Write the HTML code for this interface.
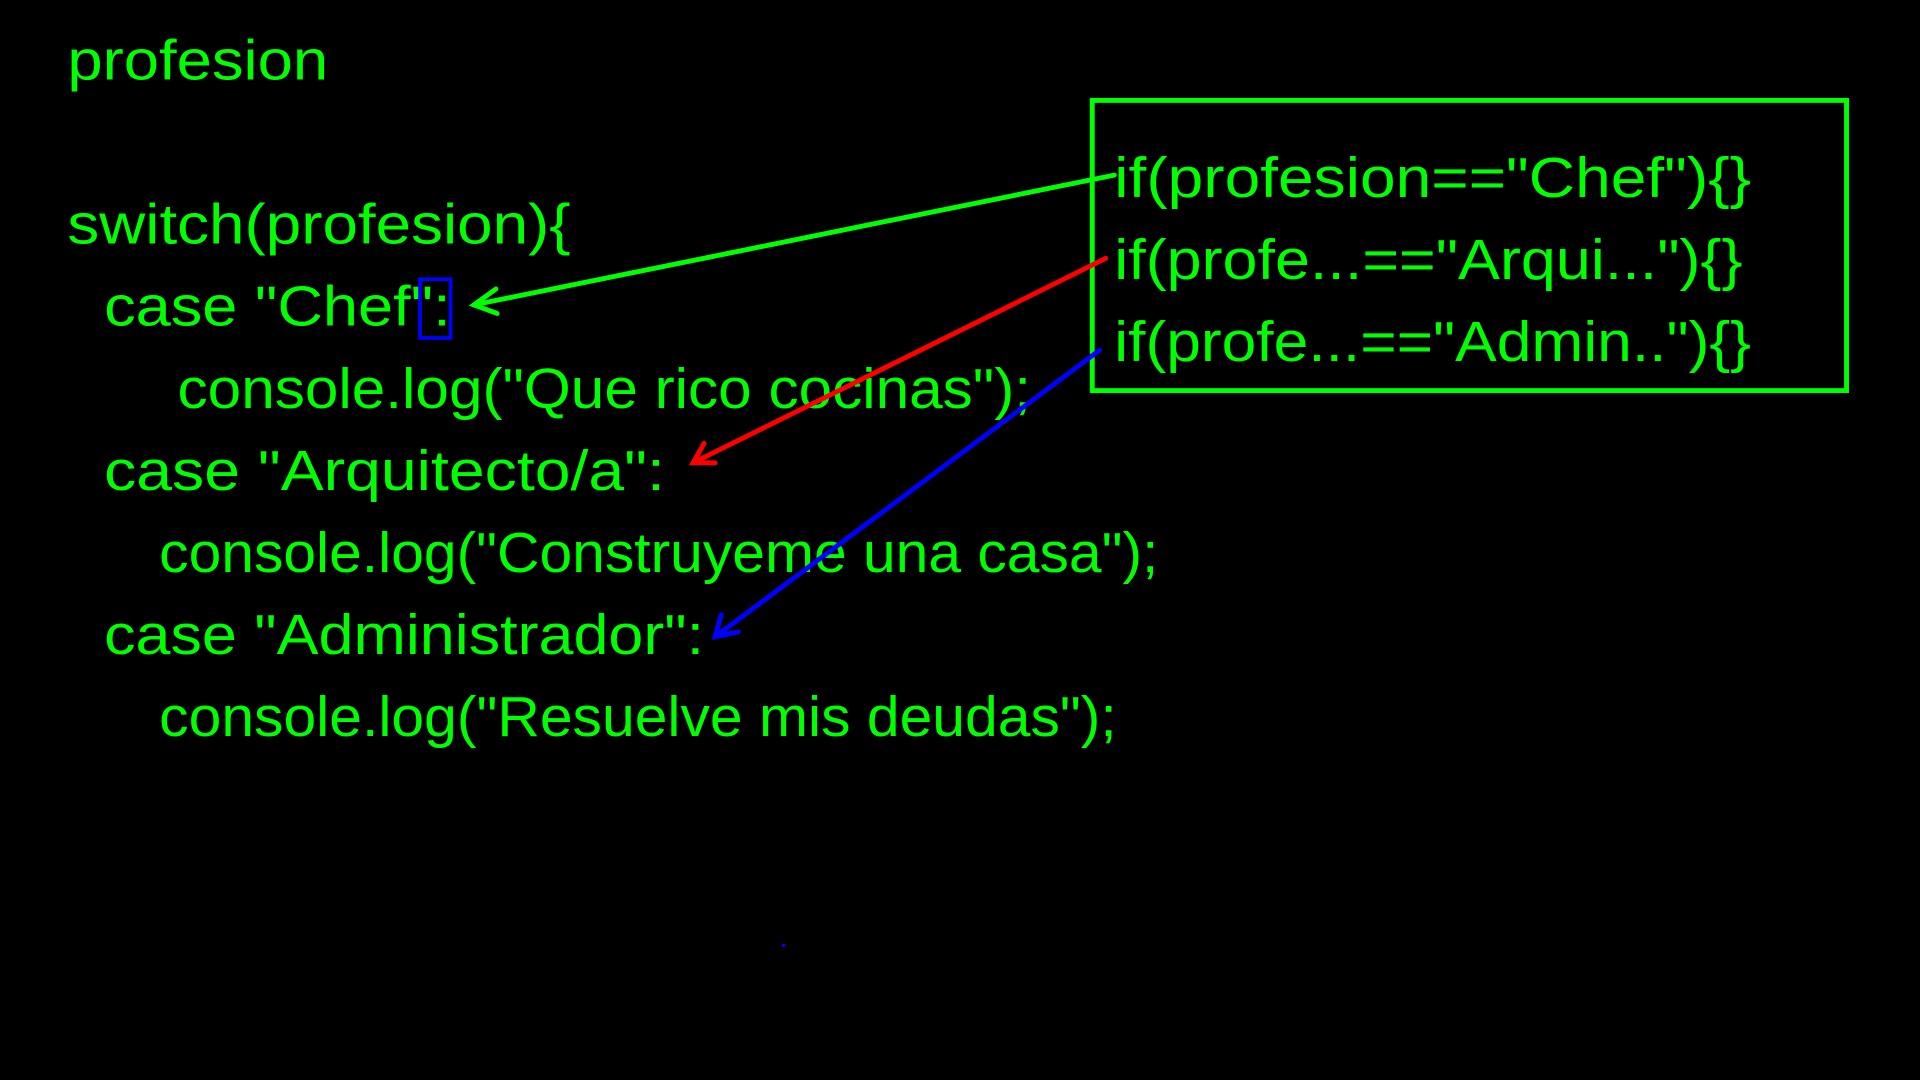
<!DOCTYPE html>
<html><head><meta charset="utf-8"><style>
html,body{margin:0;padding:0;background:#000;width:1920px;height:1080px;overflow:hidden}
svg{display:block}
text{font-family:"Liberation Sans",sans-serif;font-size:46px;fill:#00ff00}
</style></head><body>
<svg width="1920" height="1080" viewBox="0 0 1568 882" preserveAspectRatio="none" xmlns="http://www.w3.org/2000/svg">
<rect width="1568" height="882" fill="#000"/>
<text x="55" y="65" textLength="213" lengthAdjust="spacingAndGlyphs">profesion</text>
<text x="55" y="199" textLength="411" lengthAdjust="spacingAndGlyphs">switch(profesion){</text>
<text x="85" y="266" textLength="283" lengthAdjust="spacingAndGlyphs">case "Chef":</text>
<text x="145" y="333" textLength="697" lengthAdjust="spacingAndGlyphs">console.log("Que rico cocinas");</text>
<text x="85" y="400" textLength="458" lengthAdjust="spacingAndGlyphs">case "Arquitecto/a":</text>
<text x="130" y="467" textLength="816" lengthAdjust="spacingAndGlyphs">console.log("Construyeme una casa");</text>
<text x="85" y="534" textLength="490" lengthAdjust="spacingAndGlyphs">case "Administrador":</text>
<text x="130" y="601" textLength="782" lengthAdjust="spacingAndGlyphs">console.log("Resuelve mis deudas");</text>
<rect x="892" y="82" width="616" height="237" fill="none" stroke="#00ff00" stroke-width="4"/>
<text x="910" y="161" textLength="520" lengthAdjust="spacingAndGlyphs">if(profesion=="Chef"){}</text>
<text x="910" y="228" textLength="513" lengthAdjust="spacingAndGlyphs">if(profe...=="Arqui..."){}</text>
<text x="910" y="295" textLength="520" lengthAdjust="spacingAndGlyphs">if(profe...=="Admin.."){}</text>
<rect x="343" y="228" width="25" height="48" fill="none" stroke="#0000ff" stroke-width="3"/>
<g stroke-width="4" fill="none" stroke-linecap="round">
<line x1="910" y1="143" x2="387" y2="249" stroke="#00ff00"/>
<polyline points="405,236 387,249 406,256" stroke="#00ff00"/>
<line x1="903" y1="211" x2="566" y2="378" stroke="#ff0000"/>
<polyline points="575,362 566,378 584,378" stroke="#ff0000"/>
<line x1="898" y1="286" x2="584" y2="520" stroke="#0000ff"/>
<polyline points="589,502 584,520 603,516" stroke="#0000ff"/>
</g>
<circle cx="640" cy="772" r="1.5" fill="#0000ff"/>
</svg>
</body></html>
